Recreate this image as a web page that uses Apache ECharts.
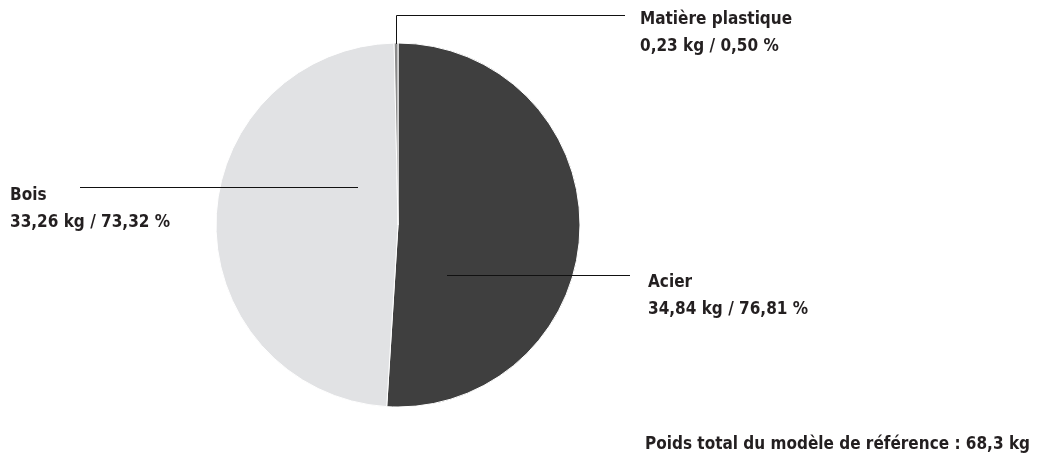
<!DOCTYPE html>
<html>
<head>
<meta charset="utf-8">
<script src="https://cdn.jsdelivr.net/npm/echarts@6/dist/echarts.min.js"></script>
<style>
html,body{margin:0;padding:0;background:#fff;}
#c{width:1038px;height:455px;}
</style>
</head>
<body>
<div id="c"></div>
<script>
const categories = ['Acier', 'Bois', 'Matière plastique'];
const weightsKg = [34.84, 33.26, 0.23];
const weightLabels = ['34,84 kg', '33,26 kg', '0,23 kg'];
const percentLabels = ['76,81 %', '73,32 %', '0,50 %'];
const sliceColors = ['#3f3f3f', '#e1e2e4', '#8c8c8c'];
const totalText = 'Poids total du modèle de référence : 68,3 kg';

const FONT = '"Liberation Sans Narrow", "DejaVu Sans Condensed", "Roboto", sans-serif';

// label anchor positions and leader lines (layout only)
const labelPos = [
  {x: 648, y: 296, line: [[447, 275.5], [630, 275.5]]},
  {x: 10, y: 209, line: [[358, 187.5], [80, 187.5]]},
  {x: 640, y: 33, line: [[396.5, 44], [396.5, 15.5], [625, 15.5]]}
];

const chart = echarts.init(document.getElementById('c'), null, {renderer: 'canvas'});
chart.setOption({
  animation: false,
  backgroundColor: '#ffffff',
  series: [{
    type: 'pie',
    center: [398, 225],
    radius: [0, 182],
    startAngle: 90,
    clockwise: true,
    avoidLabelOverlap: false,
    itemStyle: {borderColor: '#ffffff', borderWidth: 1},
    label: {
      show: true,
      position: 'outside',
      formatter: p => '{b|' + p.name + '}\n{b|' + weightLabels[p.dataIndex] + ' / ' + percentLabels[p.dataIndex] + '}',
      rich: {
        b: {fontFamily: FONT, fontWeight: 'bold', fontSize: 17, color: '#231f20', lineHeight: 27}
      },
      align: 'left',
      verticalAlign: 'middle'
    },
    labelLine: {show: false},
    labelLayout: function (params) {
      const p = labelPos[params.dataIndex];
      return {x: p.x, y: p.y, align: 'left', verticalAlign: 'middle'};
    },
    data: categories.map((c, i) => ({
      name: c,
      value: weightsKg[i],
      itemStyle: {color: sliceColors[i]}
    }))
  }],
  graphic: labelPos.map(p => ({
    type: 'polyline',
    z: 100,
    silent: true,
    shape: {points: p.line},
    style: {stroke: '#111111', lineWidth: 1, fill: null}
  })).concat([{
    type: 'text',
    right: 8,
    top: 436,
    z: 100,
    style: {
      text: totalText,
      fontFamily: FONT,
      fontWeight: 'bold',
      fontSize: 17,
      fill: '#231f20'
    }
  }])
});
</script>
</body>
</html>
